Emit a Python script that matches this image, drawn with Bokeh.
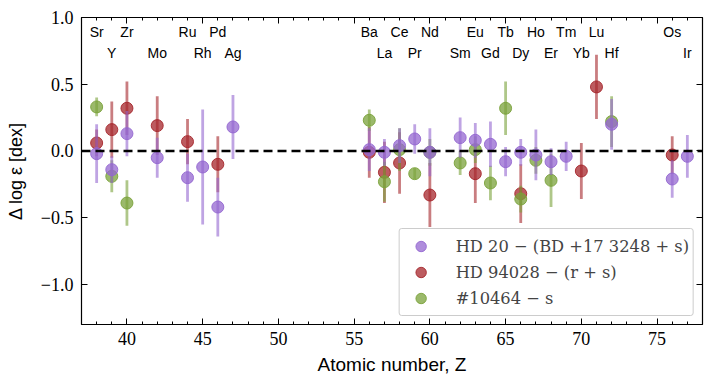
import numpy as np
from bokeh.plotting import figure
from bokeh.models import (ColumnDataSource, LinearAxis, SingleIntervalTicker, FixedTicker,
                          Span, Legend, LegendItem, CustomJSTickFormatter, Range1d)
from bokeh.core.properties import value
from bokeh.embed import file_html
from bokeh.resources import INLINE

# --- element labels ---
elem_names = ["Sr", "Y", "Zr", "Mo", "Ru", "Rh", "Pd", "Ag", "Ba", "La", "Ce", "Pr", "Nd",
              "Sm", "Eu", "Gd", "Tb", "Dy", "Ho", "Er", "Tm", "Yb", "Lu", "Hf", "Os", "Ir"]
elem_z = [38, 39, 40, 42, 44, 45, 46, 47, 56, 57, 58, 59, 60,
          62, 63, 64, 65, 66, 67, 68, 69, 70, 71, 72, 76, 77]
elem_row = [1, 2, 1, 2, 1, 2, 1, 2, 1, 2, 1, 2, 1,
            2, 1, 2, 1, 2, 1, 2, 1, 2, 1, 2, 1, 2]

# --- HD 20 - (BD +17 3248 + s) ---
hd20_z = [38, 39, 40, 42, 44, 45, 46, 47, 56, 57, 58, 59, 60, 62, 63, 64, 65, 66, 67, 68, 69, 72, 76, 77]
hd20_val = [-0.02, -0.14, 0.13, -0.05, -0.20, -0.12, -0.42, 0.18, 0.01, -0.01, 0.04, 0.09, -0.01,
            0.10, 0.08, 0.05, -0.08, -0.01, -0.03, -0.08, -0.04, 0.20, -0.21, -0.04]
hd20_err = [0.22, 0.10, 0.17, 0.15, 0.18, 0.43, 0.22, 0.24, 0.16, 0.10, 0.13, 0.11, 0.18,
            0.15, 0.13, 0.17, 0.11, 0.10, 0.19, 0.10, 0.11, 0.19, 0.14, 0.16]

# --- HD 94028 - (r + s) ---
hd94_z = [38, 39, 40, 42, 44, 46, 56, 57, 58, 60, 63, 66, 70, 71, 76]
hd94_val = [0.06, 0.16, 0.32, 0.19, 0.07, -0.10, -0.01, -0.16, -0.09, -0.33, -0.17, -0.32, -0.15, 0.48, -0.03]
hd94_err = [0.10, 0.21, 0.20, 0.22, 0.17, 0.21, 0.19, 0.23, 0.23, 0.24, 0.22, 0.22, 0.21, 0.24, 0.14]

# --- #10464 - s ---
s10464_z = [38, 39, 40, 56, 57, 58, 59, 60, 62, 63, 64, 65, 66, 67, 68, 72]
s10464_val = [0.33, -0.19, -0.39, 0.23, -0.23, 0.01, -0.17, -0.01, -0.09, 0.01, -0.24, 0.32, -0.36, -0.07, -0.22, 0.22]
s10464_err = [0.07, 0.12, 0.17, 0.08, 0.15, 0.16, 0.04, 0.10, 0.09, 0.10, 0.13, 0.20, 0.10, 0.10, 0.20, 0.19]

series_labels = ["HD 20 − (BD +17 3248 + s)", "HD 94028 − (r + s)", "#10464 − s"]

y_ticks = [-1.0, -0.5, 0.0, 0.5, 1.0]

p = figure(width=712, height=384, x_range=Range1d(37, 78), y_range=Range1d(-1.3, 1.0),
           output_backend="svg", toolbar_location=None,
           min_border_left=81, min_border_right=10, min_border_top=17, min_border_bottom=60)
p.xgrid.visible = False
p.ygrid.visible = False
p.outline_line_color = "black"
p.outline_line_width = 1.2
p.background_fill_color = "white"
p.border_fill_color = "white"

minus_fmt = CustomJSTickFormatter(code="return tick.toFixed(1).replace('-', '\u2212');")

p.xaxis.ticker = SingleIntervalTicker(interval=5, num_minor_ticks=5)
p.yaxis.ticker = FixedTicker(ticks=y_ticks)
p.yaxis.formatter = minus_fmt
p.xaxis.axis_label = "Atomic number, Z"
p.yaxis.axis_label = "Δ log ε [dex]"

for ax in [p.xaxis[0], p.yaxis[0]]:
    ax.major_tick_in = 6
    ax.major_tick_out = 0
    ax.minor_tick_in = 3
    ax.minor_tick_out = 0
    ax.axis_line_color = None
    ax.major_tick_line_color = "black"
    ax.minor_tick_line_color = "black"
    ax.major_label_text_font = "Liberation Serif"
    ax.major_label_text_font_size = "18px"
    ax.major_label_text_color = "black"
    ax.axis_label_text_font = "Liberation Sans"
    ax.axis_label_text_font_size = "18px"
    ax.axis_label_text_font_style = "normal"
    ax.axis_label_text_color = "black"
p.xaxis.axis_label_text_font_size = "19px"
p.yaxis.minor_tick_line_color = None
p.xaxis.major_label_standoff = 7
p.yaxis.major_label_standoff = 8
p.xaxis.axis_label_standoff = 6
p.yaxis.axis_label_standoff = 12

top = LinearAxis(ticker=SingleIntervalTicker(interval=5, num_minor_ticks=5))
right = LinearAxis(ticker=FixedTicker(ticks=y_ticks))
for ax in [top, right]:
    ax.major_tick_in = 6
    ax.major_tick_out = 0
    ax.minor_tick_in = 3
    ax.minor_tick_out = 0
    ax.axis_line_color = None
    ax.major_label_text_font_size = "0px"
    ax.major_label_standoff = 0
right.minor_tick_line_color = None
p.add_layout(top, "above")
p.add_layout(right, "right")

p.add_layout(Span(location=0, dimension="width", line_color="black", line_width=2.5, line_dash="9 5"))

colors = ["#9467d0", "#a5262b", "#7aa23a"]
data = [(hd20_z, hd20_val, hd20_err), (hd94_z, hd94_val, hd94_err), (s10464_z, s10464_val, s10464_err)]
renderers = {}
for idx in [1, 2, 0]:
    z, v, e = data[idx]
    z = np.array(z, float); v = np.array(v, float); e = np.array(e, float)
    src = ColumnDataSource(dict(x=z, y=v, lo=v - e, hi=v + e))
    p.segment(x0="x", y0="lo", x1="x", y1="hi", source=src, line_color=colors[idx],
              line_width=2.8, line_alpha=0.6)
    sc = p.scatter(x="x", y="y", source=src, size=12, fill_color=colors[idx], fill_alpha=0.75,
                   line_color=colors[idx], line_alpha=0.9, line_width=1)
    dash = p.scatter(x=[], y=[], marker="dash", angle=np.pi / 2, size=17, line_color=colors[idx],
                     line_width=3, line_alpha=0.7, line_cap="square")
    renderers[idx] = (dash, sc)

items = [LegendItem(label=series_labels[i], renderers=list(renderers[i])) for i in range(3)]
legend = Legend(items=items, location="bottom_right", margin=8,
                label_text_font="DejaVu Serif", label_text_font_size="16.3px",
                glyph_width=34, glyph_height=26, spacing=0, padding=4, label_standoff=18,
                border_line_color="#cccccc", border_line_width=1, border_line_alpha=1,
                border_radius=3, background_fill_alpha=0.85)
p.add_layout(legend, "center")

tsrc = ColumnDataSource(dict(x=elem_z, y=[0.895 if r == 1 else 0.737 for r in elem_row], t=elem_names))
p.text(x="x", y="y", text="t", source=tsrc, text_align="center", text_baseline="middle",
       text_font=value("Liberation Sans"), text_font_size="14px", text_color="black")

open("out.html", "w").write(file_html(p, INLINE))
